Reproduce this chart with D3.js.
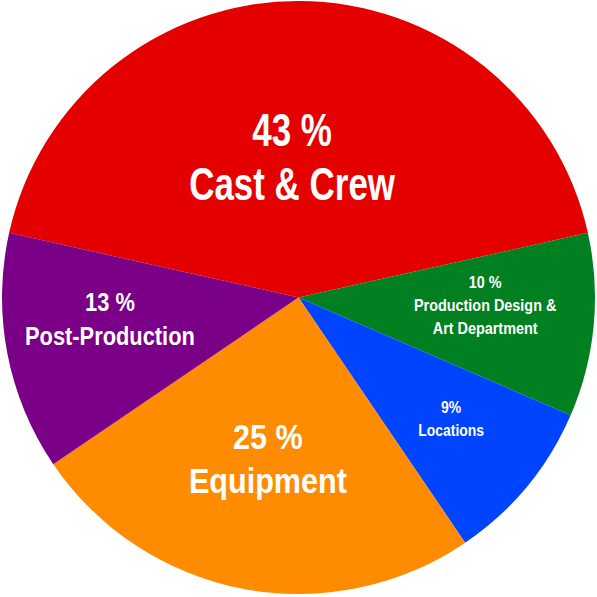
<!DOCTYPE html>
<html>
<head>
<meta charset="utf-8">
<script src="https://cdn.jsdelivr.net/npm/d3@7"></script>
<style>
  html, body { margin: 0; padding: 0; background: #ffffff; }
  svg { display: block; }
  text { font-family: "Liberation Sans", Arial, sans-serif; font-weight: bold; fill: #ffffff; }
</style>
</head>
<body>
<svg id="chart" width="597" height="597"></svg>
<script>
// ---- data ----
const categories = ["Cast & Crew", "Production Design & Art Department", "Locations", "Equipment", "Post-Production"];
const values = [43, 10, 9, 25, 13];
const percentLabels = ["43 %", "10 %", "9%", "25 %", "13 %"];
const nameLines = [["Cast & Crew"], ["Production Design &", "Art Department"], ["Locations"], ["Equipment"], ["Post-Production"]];

// ---- styles (not data) ----
const colors = ["#e50000", "#008020", "#0044ff", "#ff8b00", "#790087"];
const fontSizes = [46, 16, 16, 36, 26];
const lineHeights = [54, 23, 23, 44, 34];
const condense = [0.76, 0.9, 0.87, 0.85, 0.84];
const labelRadiusFrac = [0.476, 0.63, 0.657, 0.551, 0.64];
const labelAngleOffsetDeg = [-2.6, -3.1, -1.2, 0, 4.4];

const width = 597, height = 597;
const cx = 298.5, cy = 297.5, R = 296.5;

const svg = d3.select("#chart");
const g = svg.append("g").attr("transform", `translate(${cx},${cy})`);

const total = d3.sum(values);
const startAngle = -Math.PI * values[0] / total; // first slice centred at top
const pie = d3.pie().sort(null).value(d => d.value)
  .startAngle(startAngle).endAngle(startAngle + 2 * Math.PI);

const data = categories.map((c, i) => ({ name: c, value: values[i], i }));
const arcs = pie(data);

const arc = d3.arc().innerRadius(0).outerRadius(R);

g.selectAll("path.slice").data(arcs).enter().append("path")
  .attr("class", "slice")
  .attr("d", arc)
  .attr("fill", d => colors[d.data.i]);

const labels = g.selectAll("g.label").data(arcs).enter().append("g")
  .attr("class", "label")
  .attr("transform", d => {
    const i = d.data.i;
    const a = (d.startAngle + d.endAngle) / 2 + labelAngleOffsetDeg[i] * Math.PI / 180;
    const r = labelRadiusFrac[i] * R;
    return `translate(${r * Math.sin(a)},${-r * Math.cos(a)}) scale(${condense[i]},1)`;
  });

labels.each(function(d) {
  const i = d.data.i;
  const lines = [percentLabels[i]].concat(nameLines[i]);
  const n = lines.length;
  const fs = fontSizes[i], lh = lineHeights[i];
  const cap = fs * 0.716;
  d3.select(this).selectAll("text").data(lines).enter().append("text")
    .attr("text-anchor", "middle")
    .attr("x", 0)
    .attr("y", (t, k) => (k - (n - 1) / 2) * lh + cap / 2)
    .style("font-size", fs + "px")
    .text(t => t);
});
</script>
</body>
</html>
